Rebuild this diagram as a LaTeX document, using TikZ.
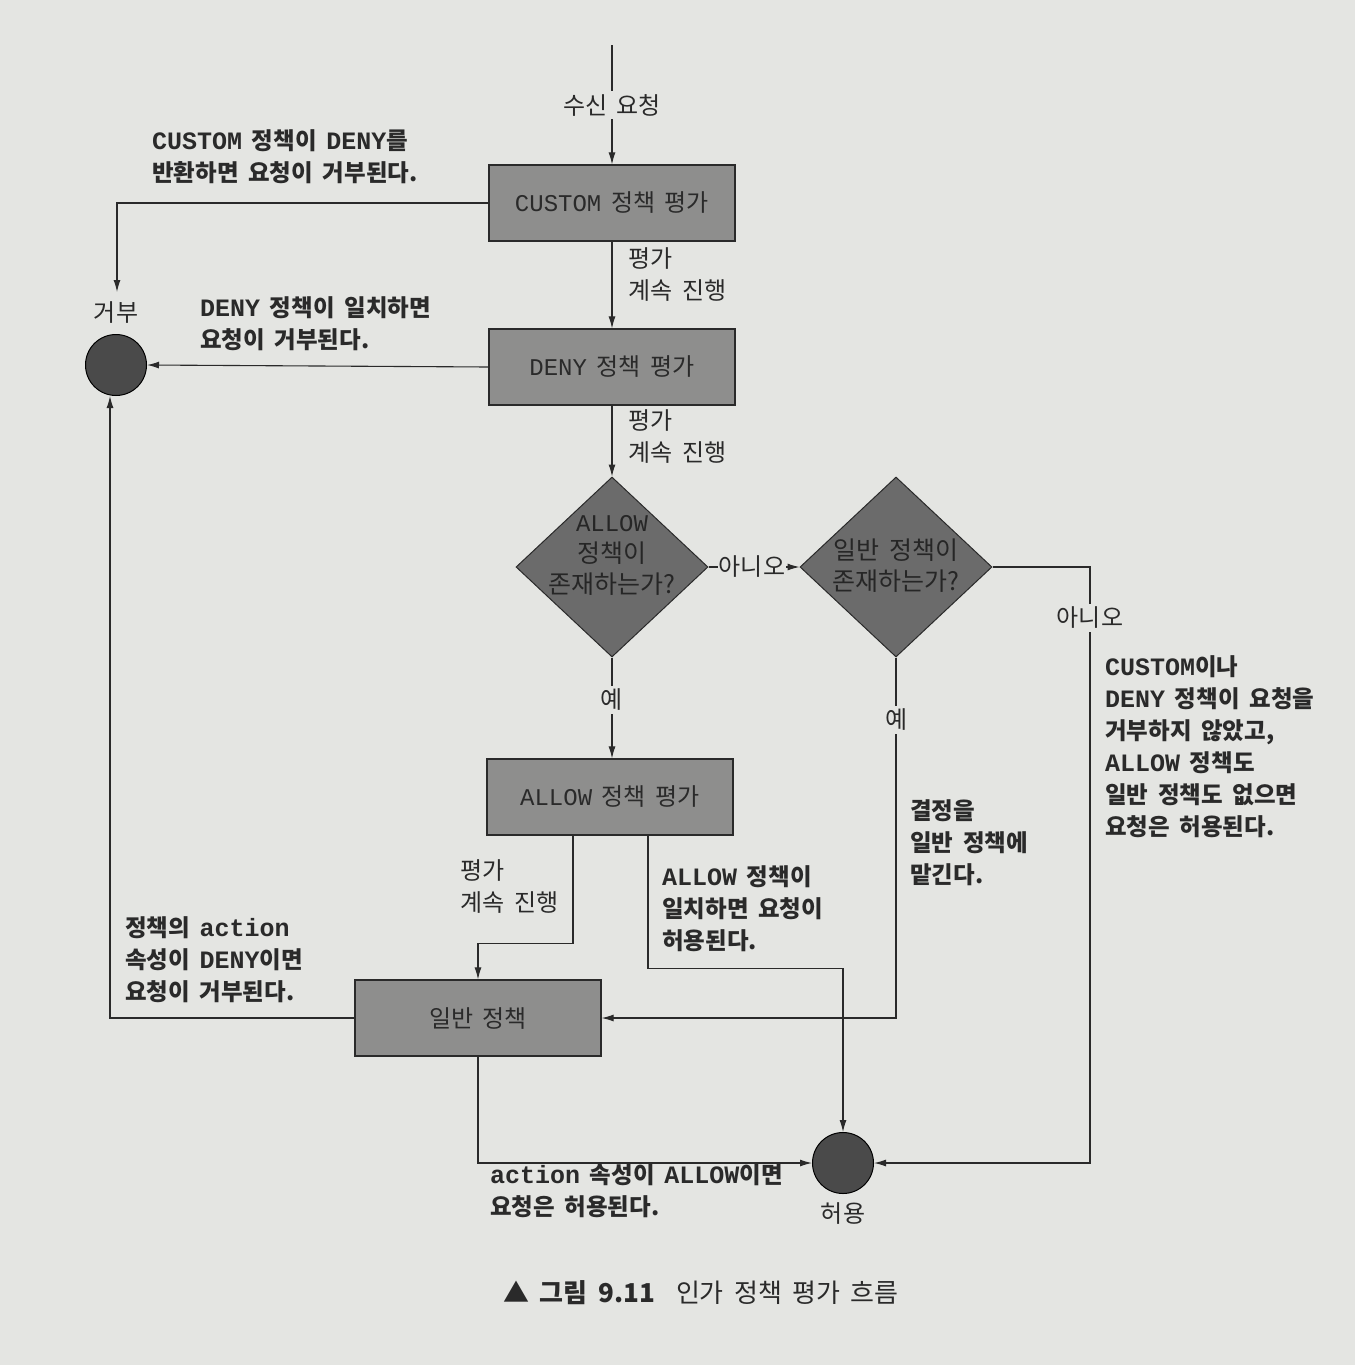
\documentclass[tikz,border=0pt]{standalone}
\usepackage{fontspec}
\setmainfont[WordSpace=1.8]{Noto Sans CJK KR}
\newfontfamily\monofam{Liberation Mono}
\usetikzlibrary{arrows.meta,shapes.geometric,calc}
\definecolor{bg}{HTML}{E4E5E2}
\definecolor{boxgray}{HTML}{8E8E8D}
\definecolor{diagray}{HTML}{6B6B6B}
\definecolor{dotgray}{HTML}{4A4A4A}
\definecolor{ink}{HTML}{2A2A2A}
\newcommand\mtt[1]{{\monofam\fontsize{25}{32}\selectfont #1}}
\newcommand\mtb[1]{{\monofam\fontsize{24}{28}\selectfont #1}}
\begin{document}
\begin{tikzpicture}[x=1pt,y=-1pt,
  box/.style={draw=ink, line width=1.2pt, fill=boxgray, minimum width=246pt, minimum height=76pt, inner sep=0, font=\fontsize{24}{28}\selectfont, text=ink},
  dia/.style={diamond, draw=ink, line width=1pt, fill=diagray, minimum width=192pt, minimum height=180pt, inner sep=0},
  diatext/.style={align=center, font=\fontsize{25}{31}\selectfont, text=black!85, inner sep=0},
  dot/.style={circle, draw=black, line width=1pt, fill=dotgray, minimum size=61pt, inner sep=0},
  note/.style={align=left, anchor=north west, font=\bfseries\fontsize{23.5}{32}\selectfont, text=ink, inner sep=0},
  plain/.style={align=left, font=\fontsize{24}{32}\selectfont, text=ink, inner sep=0},
  onl/.style={fill=bg, inner sep=3pt, font=\fontsize{24}{32}\selectfont, text=ink},
  arr/.style={draw=ink, line width=1.1pt, -{Latex[length=12pt,width=7pt]}}
]
\fill[bg] (0,0) rectangle (1355,1365);

% nodes
\coordinate (start) at (612,45);
\node[box] (custom) at (612,203) {\mtb{CUSTOM} 정책 평가};
\node[box] (deny) at (612,367) {\mtb{DENY} 정책 평가};
\node[dia] (d1) at (612,567) {};
\node[diatext] (d1t) at (612,555) {\mtb{ALLOW}\\정책이\\존재하는가?};
\node[dia] (d2) at (896,567) {};
\node[diatext] (d2t) at (896,566) {일반 정책이\\존재하는가?};
\node[box] (allowbox) at (610,797) {\mtb{ALLOW} 정책 평가};
\node[box] (general) at (478,1018) {일반 정책};
\node[dot] (reject) at (116,365) {};
\node[dot] (accept) at (843,1163) {};
\coordinate (rejtip) at (117,292);
\coordinate (rc) at (1090,567);

% connectors
\draw[arr] (start) -- (custom.north);
\draw[arr] (custom.west) -| (rejtip);
\draw[arr] (custom.south) -- (deny.north);
\draw[arr] (deny.west) -- (reject.east);
\draw[arr] (deny.south) -- (d1.north);
\draw[arr] (d1.east) -- (d2.west);
\draw[arr] (d2.east) -- (rc) |- (accept.east);
\draw[arr] (d1.south) -- (d1.south |- allowbox.north);
\draw[arr] (d2.south) |- (general.east);
\draw[arr] ([xshift=-37pt]allowbox.south) -- ++(0,108) -| (general.north);
\draw[arr] ([xshift=38pt]allowbox.south) -- ++(0,133) -| (accept.north);
\draw[arr] (general.west) -| ([xshift=-6pt]reject.south);
\draw[arr] (general.south) |- (accept.west);

% labels on lines
\node[onl] (lin) at (612,105) {수신 요청};
\node[onl, inner sep=1pt] (lno1) at (752,567) {아니오};
\node[onl] (lno2) at (1090,618) {아니오};
\node[onl] (lyes1) at (612,700) {예};
\node[onl] (lyes2) at (897,720) {예};

% plain labels
\node[plain, anchor=north west] (cont1) at (628,247) {평가\\계속 진행};
\node[plain, anchor=north west] (cont2) at (628,409) {평가\\계속 진행};
\node[plain, anchor=north west] (cont3) at (460,859) {평가\\계속 진행};
\node[plain] (lrej) at (116,313) {거부};
\node[plain] (lacc) at (843,1213) {허용};

% notes
\node[note] (n1) at (152,129) {\mtt{CUSTOM} 정책이 \mtt{DENY}를\\반환하면 요청이 거부된다.};
\node[note] (n2) at (200,296) {\mtt{DENY} 정책이 일치하면\\요청이 거부된다.};
\node[note] (n3) at (1105,655) {\mtt{CUSTOM}이나\\\mtt{DENY} 정책이 요청을\\거부하지 않았고,\\\mtt{ALLOW} 정책도\\일반 정책도 없으면\\요청은 허용된다.};
\node[note] (n4) at (910,799) {결정을\\일반 정책에\\맡긴다.};
\node[note] (n5) at (662,865) {\mtt{ALLOW} 정책이\\일치하면 요청이\\허용된다.};
\node[note] (n6) at (125,916) {정책의 \mtt{action}\\속성이 \mtt{DENY}이면\\요청이 거부된다.};
\node[note] (n7) at (490,1163) {\mtt{action} 속성이 \mtt{ALLOW}이면\\요청은 허용된다.};

% caption
\node[font=\fontsize{26}{30}\selectfont, text=ink, inner sep=0] (cap) at (701,1293) {{\bfseries ▲ 그림 9.11}\ \ 인가 정책 평가 흐름};
\end{tikzpicture}
\end{document}
